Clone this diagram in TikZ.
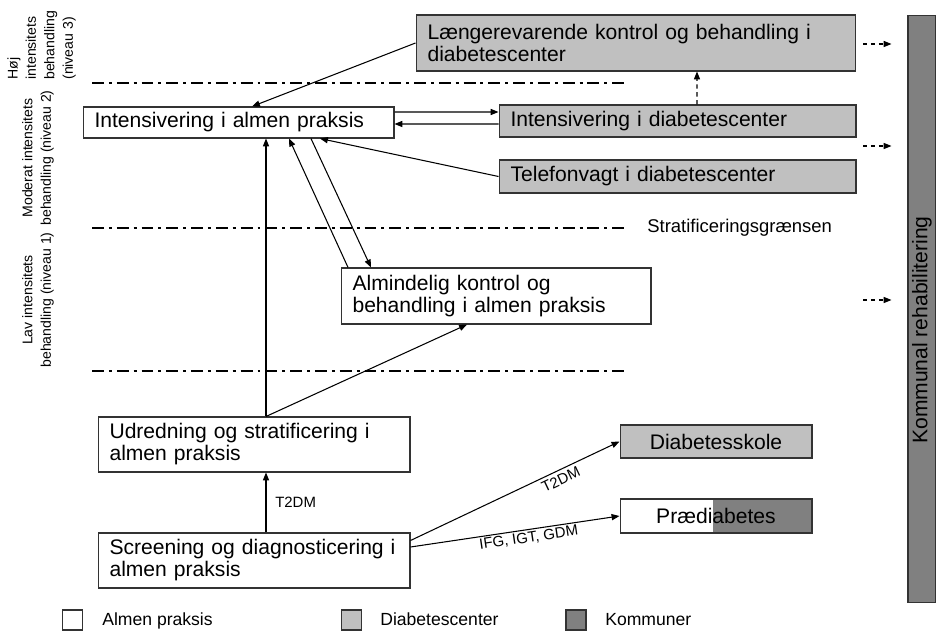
\documentclass[tikz,border=0pt]{standalone}
\usepackage{fontspec}
\setmainfont{Liberation Sans}
\usetikzlibrary{arrows.meta}
\definecolor{dcgray}{HTML}{C0C0C0}
\definecolor{komgray}{HTML}{808080}
\begin{document}
\begin{tikzpicture}[x=0.02cm, y=-0.02cm,
  box/.style={draw=black!80, line width=0.6pt, align=left, inner xsep=0.23cm, inner ysep=0pt, font=\fontsize{12}{12.5}\selectfont},
  dcbox/.style={box, fill=dcgray},
  smallbox/.style={draw=black!80, line width=0.6pt, inner sep=0pt, minimum width=3.84cm, font=\fontsize{12}{12.5}\selectfont},
  arr/.style={-{Triangle[length=4.5pt,width=3.5pt]}, line width=0.6pt},
  dasharr/.style={arr, dash pattern=on 2.5pt off 2pt},
  level/.style={line width=1.2pt, dash pattern=on 6.8pt off 2.8pt on 1.7pt off 2.8pt},
  lbl/.style={font=\fontsize{8.5}{10}\selectfont, inner sep=1pt},
  side/.style={rotate=90, inner sep=0pt, font=\fontsize{8}{10.5}\selectfont},
  legend/.style={draw=black!80, line width=0.6pt, minimum size=0.4cm, inner sep=0pt},
  legtext/.style={anchor=base west, inner sep=0pt, font=\fontsize{10}{12}\selectfont}]
\useasboundingbox (0,0) rectangle (936,631);
% levels
\node [side, align=left, anchor=north west] (hoj) at (7,80) {Høj\\intensitets\\behandling\\(niveau 3)};
\node [side, align=center] (mod) at (38,158) {Moderat intensitets\\behandling (niveau 2)};
\node [side, align=center] (lav) at (38,300) {Lav intensitets\\behandling (niveau 1)};
\draw [level] (92,83) -- (629,83);
\draw [level] (92,228) -- (629,228);
\draw [level] (92,371) -- (629,371);
\node [anchor=west, inner sep=0pt, font=\fontsize{10.5}{12}\selectfont] (strat) at (647,228) {Stratificeringsgrænsen};
% boxes
\node [dcbox, text width=8.34cm, minimum height=1.12cm] (L) at (636,43) {Længerevarende kontrol og behandling i\\diabetescenter};
\node [dcbox, text width=6.68cm, minimum height=0.64cm] (ID) at (677.5,121) {Intensivering i diabetescenter};
\node [dcbox, text width=6.68cm, minimum height=0.66cm] (TV) at (677.5,176.5) {Telefonvagt i diabetescenter};
\node [box, text width=5.76cm, minimum height=0.62cm] (IA) at (238.5,122.5) {Intensivering i almen praksis};
\node [box, text width=5.74cm, minimum height=1.12cm] (AK) at (496,296) {Almindelig kontrol og\\behandling i almen praksis};
\node [box, text width=5.78cm, minimum height=1.1cm] (UD) at (254,444.5) {Udredning og stratificering i\\almen praksis};
\node [box, text width=5.78cm, minimum height=1.1cm] (SC) at (254,560.5) {Screening og diagnosticering i\\almen praksis};
\node [smallbox, fill=dcgray, minimum height=0.66cm] (DS) at (716,441.5) {Diabetesskole};
\node [smallbox, minimum height=0.68cm, path picture={\fill [komgray] ([xshift=-0.06cm]path picture bounding box.south) rectangle (path picture bounding box.north east);}] (PD) at (716,516) {Prædiabetes};
\node [draw=black!80, line width=0.6pt, fill=komgray, rotate=90, minimum width=11.76cm, minimum height=0.56cm, inner sep=0pt] (KR) at (922,309) {};
\node [rotate=90, inner sep=0pt, font=\fontsize{12}{12.5}\selectfont] (KRt) at (922,330) {Kommunal rehabilitering};
% connectors
\draw [arr] (L.west) -- ([xshift=0.27cm]IA.north);
\draw [arr] ([yshift=0.21cm]IA.east) -- ([yshift=0.18cm]ID.west);
\draw [arr] ([yshift=-0.06cm]ID.west) -- ([yshift=-0.03cm]IA.east);
\draw [dasharr] ([xshift=0.39cm]ID.north) -- ([xshift=1.22cm]L.south);
\draw [arr] (TV.west) -- ([xshift=1.63cm]IA.south);
\draw [arr] ([xshift=1.45cm]IA.south) -- ([xshift=-2.5cm]AK.north);
\draw [arr] ([xshift=-2.96cm]AK.north) -- ([xshift=1.01cm]IA.south);
\coordinate (ud) at ([xshift=0.24cm]UD.north);
\coordinate (sc) at ([xshift=0.24cm]SC.north);
\draw [arr] (ud) -- (ud |- IA.south);
\draw [arr] (ud) -- ([xshift=-0.58cm]AK.south);
\draw [arr] (sc) -- (sc |- UD.south) node [lbl, midway, right=4pt] {T2DM};
\draw [arr] ([yshift=0.4cm]SC.east) -- (DS.west) node [lbl, pos=0.7, sloped, below=1pt] {T2DM};
\draw [arr] ([yshift=0.27cm]SC.east) -- (PD.west) node [lbl, pos=0.56, sloped, below] {IFG, IGT, GDM};
\coordinate (k1) at (863,44);
\coordinate (k2) at (863,146);
\coordinate (k3) at (863,300);
\draw [dasharr, shorten >=0.32cm] (k1) -- (k1 -| KR.north);
\draw [dasharr, shorten >=0.32cm] (k2) -- (k2 -| KR.north);
\draw [dasharr, shorten >=0.32cm] (k3) -- (k3 -| KR.north);
% legend
\node [legend, fill=white] (lgA) at (72.5,620) {};
\node [legtext] (lgAt) at (102,625) {Almen praksis};
\node [legend, fill=dcgray] (lgD) at (351.5,620) {};
\node [legtext] (lgDt) at (380,625) {Diabetescenter};
\node [legend, fill=komgray] (lgK) at (576,620) {};
\node [legtext] (lgKt) at (605,625) {Kommuner};
\end{tikzpicture}
\end{document}
